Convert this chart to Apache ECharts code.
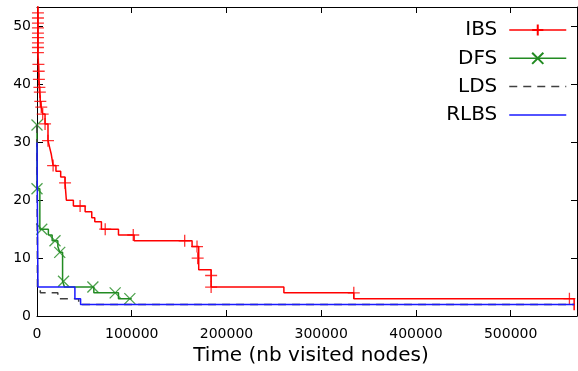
<!DOCTYPE html>
<html><head><meta charset="utf-8">
<script src="https://cdn.jsdelivr.net/npm/echarts@6/dist/echarts.min.js"></script>
<style>html,body{margin:0;padding:0;background:#fff}#c{width:578px;height:371px}</style>
</head><body><div id="c"></div>
<script>
// ---- data ----
const seriesNames = ['IBS', 'DFS', 'LDS', 'RLBS'];
const xTitle = 'Time (nb visited nodes)';

const ibsX = [1000, 1000, 1000, 1000, 1000, 1000, 1000, 1000, 1000, 1000,
  1500, 1800, 2000, 2500, 3000, 3500, 4500, 6000, 8500,
  11600, 13500, 15000, 17000, 20000, 25000, 29600, 31000, 38400, 50800,
  57800, 61000, 68000, 86000, 102500, 163700, 170700, 183800, 260600, 334400, 567000];
const ibsY = [56, 52.4, 51.5, 50.6, 49.8, 48.9, 48.1, 47.2, 46.4, 45.5,
  43.5, 42.3, 40.9, 39.5, 38.7, 37.1, 36.1, 34.9, 33.2,
  30.3, 29, 28, 26, 25, 24, 23, 20, 19, 18,
  17, 16.3, 15, 14, 13, 12, 8, 5, 4, 3, 1];
const ibsMarkX = [1000, 1000, 1000, 1000, 1000, 1000, 1000, 1000, 1000,
  1500, 1800, 2000, 2500, 3000, 3500, 4500, 6000, 8500,
  11600, 17000, 29600, 45500, 72000, 101600, 155900, 168900, 169600, 183800, 183800, 334400, 562000];
const ibsMarkY = [52.4, 51.5, 50.6, 49.8, 48.9, 48.1, 47.2, 46.4, 45.5,
  43.5, 42.3, 40.9, 39.5, 38.7, 37.1, 36.1, 34.9, 33.2,
  30.3, 26, 23, 19, 15, 14, 13, 12, 10, 7, 5, 4, 3];

const dfsX = [0, 0, 3000, 12000, 16000, 22000, 24000, 27000, 29000, 60000, 86000, 100000];
const dfsY = [33, 22, 15, 14, 13, 12, 11, 6, 5, 4, 3, 3];
const dfsMarkX = [0, 0, 5000, 19000, 24000, 28000, 59000, 82500, 98000];
const dfsMarkY = [33, 22, 15, 13, 11, 6, 5, 4, 3];

const ldsX = [0, 500, 3500, 22000, 44000, 567000];
const ldsY = [33, 5, 4, 3, 2, 2];

const rlbsX = [0, 1000, 40000, 46000, 567000];
const rlbsY = [30, 5, 3, 2, 2];

const xMin = 0, xMax = 570000, xStep = 100000;
const yMin = 0, yMax = 53.4, yStep = 10;

// ---- styles ----
const FONT = 'DejaVu Sans';
const C_IBS = '#ff0000', C_DFS = '#228b22', C_LDS = '#404040', C_RLBS = '#1a1aff';
const PLUS = 'path://M0,5 L10,5 M5,0 L5,10';
const XMARK = 'path://M0,0 L10,10 M0,10 L10,0';

const pairs = (xs, ys) => xs.map((x, i) => [x, ys[i]]);

const baseX = {
  type: 'value', min: xMin, max: xMax, interval: xStep,
  axisLine: { show: true, onZero: false, lineStyle: { color: '#000', width: 1 } },
  axisTick: { show: true, inside: true, length: 6, lineStyle: { color: '#000' } },
  splitLine: { show: false }
};
const baseY = {
  type: 'value', min: yMin, max: yMax, interval: yStep,
  axisLine: { show: true, onZero: false, lineStyle: { color: '#000', width: 1 } },
  axisTick: { show: true, inside: true, length: 6, lineStyle: { color: '#000' } },
  splitLine: { show: false }
};

const chart = echarts.init(document.getElementById('c'), null, { renderer: 'canvas' });
chart.setOption({
  animation: false,
  backgroundColor: '#fff',
  grid: { left: 37, right: 1, top: 7, bottom: 53, containLabel: false },
  xAxis: [
    Object.assign({}, baseX, {
      position: 'bottom',
      name: xTitle, nameLocation: 'middle', nameGap: 30,
      nameTextStyle: { fontFamily: FONT, fontSize: 20, color: '#000', padding: [0, 0, 0, 8] },
      axisLabel: { show: true, margin: 11, fontFamily: FONT, fontSize: 14, color: '#000',
        showMaxLabel: false, formatter: v => String(v) }
    }),
    Object.assign({}, baseX, { position: 'top', axisLabel: { show: false } })
  ],
  yAxis: [
    Object.assign({}, baseY, {
      position: 'left',
      axisLabel: { show: true, margin: 6, fontFamily: FONT, fontSize: 14, color: '#000',
        showMaxLabel: false, formatter: v => String(v) }
    }),
    Object.assign({}, baseY, { position: 'right', axisLabel: { show: false } })
  ],
  legend: {
    orient: 'vertical', right: 11, top: 20, padding: 0,
    align: 'right', itemWidth: 57, itemHeight: 14, itemGap: 8.3,
    selectedMode: false,
    textStyle: { fontFamily: FONT, fontSize: 20, color: '#000', lineHeight: 20, padding: [0, 7, 0, 0] },
    lineStyle: { width: 1.5 },
    data: [
      { name: seriesNames[0] },
      { name: seriesNames[1] },
      { name: seriesNames[2], itemStyle: { opacity: 0 } },
      { name: seriesNames[3], itemStyle: { opacity: 0 } }
    ]
  },
  series: [
    {
      name: seriesNames[0], type: 'line', step: 'end', data: pairs(ibsX, ibsY),
      showSymbol: false, symbol: PLUS, clip: true,
      lineStyle: { color: C_IBS, width: 1.5 },
      itemStyle: { color: C_IBS, borderColor: C_IBS, borderWidth: 1.5 },
      z: 2
    },
    {
      name: 'IBS marks', type: 'scatter', data: pairs(ibsMarkX, ibsMarkY),
      symbol: PLUS, symbolSize: 12, clip: false,
      itemStyle: { color: C_IBS, borderColor: C_IBS, borderWidth: 1.3 },
      z: 2
    },
    {
      name: seriesNames[1], type: 'line', step: 'end', data: pairs(dfsX, dfsY),
      showSymbol: false, symbol: XMARK, clip: false,
      lineStyle: { color: C_DFS, width: 1.5 },
      itemStyle: { color: C_DFS, borderColor: C_DFS, borderWidth: 1.5 },
      z: 3
    },
    {
      name: 'DFS marks', type: 'scatter', data: pairs(dfsMarkX, dfsMarkY),
      symbol: XMARK, symbolSize: 11, clip: false,
      itemStyle: { color: C_DFS, borderColor: C_DFS, borderWidth: 1.3 },
      z: 3
    },
    {
      name: seriesNames[2], type: 'line', step: 'end', data: pairs(ldsX, ldsY),
      showSymbol: false, symbol: 'none', clip: false,
      lineStyle: { color: C_LDS, width: 1.5, type: [8, 6] },
      itemStyle: { color: C_LDS },
      z: 4
    },
    {
      name: seriesNames[3], type: 'line', step: 'end', data: pairs(rlbsX, rlbsY),
      showSymbol: false, symbol: 'none', clip: false,
      lineStyle: { color: C_RLBS, width: 1.5 },
      itemStyle: { color: C_RLBS },
      z: 5
    }
  ]
});
</script>
</body></html>
